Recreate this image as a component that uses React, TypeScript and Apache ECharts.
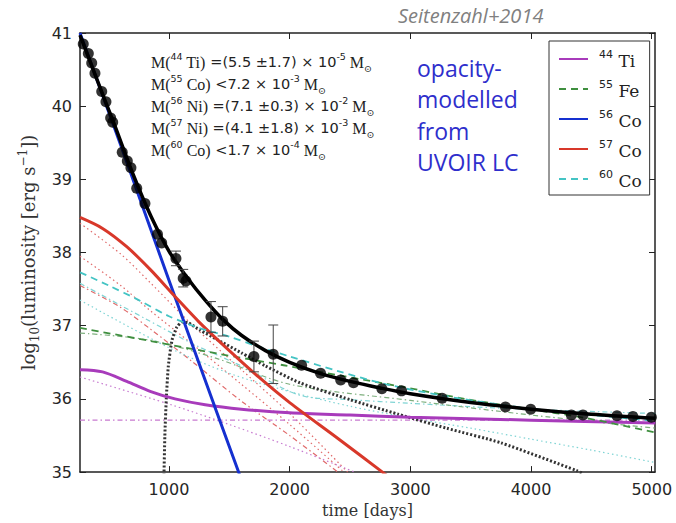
import React, { useEffect, useRef } from 'react';
import * as echarts from 'echarts';

// ---- observed light curve (days, log10 L) ----
const obsDays = [290, 332, 360, 387, 443, 478, 517, 534, 613, 655, 685, 733, 801, 905, 940, 1058, 1118, 1141, 1348, 1445, 1704, 1864, 2099, 2256, 2423, 2529, 2764, 2927, 3263, 3788, 3997, 4334, 4430, 4712, 4844, 4997];
const obsLum = [40.85, 40.72, 40.59, 40.45, 40.2, 40.06, 39.84, 39.78, 39.37, 39.25, 39.16, 38.88, 38.67, 38.25, 38.13, 37.92, 37.65, 37.61, 37.12, 37.06, 36.58, 36.61, 36.46, 36.35, 36.26, 36.22, 36.14, 36.11, 36.01, 35.89, 35.86, 35.78, 35.78, 35.77, 35.76, 35.75];

// ---- error bars ----
const errDays = [1058, 1118, 1348, 1445, 1704, 1864];
const errLum = [37.92, 37.65, 37.12, 37.06, 36.58, 36.61];
const errSize = [0.1, 0.12, 0.21, 0.2, 0.21, 0.4];

// ---- model curves [day, log10 L] ----
const totalCurve = [[263, 40.97], [400, 40.38], [550, 39.74], [700, 39.08], [850, 38.5], [1000, 38.02], [1150, 37.66], [1300, 37.35], [1450, 37.08], [1600, 36.87], [1800, 36.66], [2000, 36.5], [2250, 36.35], [2500, 36.24], [2750, 36.15], [3000, 36.07], [3500, 35.95], [4000, 35.86], [4500, 35.79], [5030, 35.735]];
const co56Curve = [[263, 41.0], [600, 39.47], [1000, 37.62], [1400, 35.8], [1577, 35.0], [1620, 34.8]];
const co57Curve = [[263, 38.48], [450, 38.33], [650, 38.08], [850, 37.76], [1050, 37.4], [1250, 37.05], [1500, 36.66], [1750, 36.29], [2000, 35.95], [2400, 35.46], [2769, 35.0], [2850, 34.9]];
const ti44Curve = [[263, 36.4], [450, 36.37], [650, 36.24], [850, 36.1], [1050, 36.0], [1300, 35.92], [1600, 35.86], [2000, 35.81], [2500, 35.78], [3000, 35.75], [4000, 35.71], [5030, 35.67]];
const fe55Curve = [[263, 36.97], [850, 36.79], [1400, 36.62], [1950, 36.46], [2450, 36.31], [2950, 36.16], [3450, 36.0], [3950, 35.87], [4450, 35.74], [5030, 35.54]];
const co60Curve = [[263, 37.73], [500, 37.55], [750, 37.35], [1000, 37.13], [1250, 36.97], [1500, 36.85], [1750, 36.71], [2000, 36.58], [2400, 36.38], [2800, 36.2], [3250, 36.05], [3750, 35.92], [4250, 35.82], [4700, 35.75], [5030, 35.7]];
const dottedCurve = [[958, 34.9], [966, 35.5], [978, 36.0], [995, 36.45], [1025, 36.8], [1065, 36.98], [1110, 37.05], [1160, 37.04], [1257, 36.94], [1400, 36.81], [1600, 36.63], [1800, 36.45], [2085, 36.22], [2500, 35.99], [2900, 35.79], [3300, 35.6], [3750, 35.4], [4379, 35.02], [4420, 34.99]];

// thin component curves
const redDot1 = [[263, 38.4], [600, 37.98], [850, 37.58], [1200, 37.0], [1600, 36.4], [2000, 35.8], [2480, 35.0]];
const redDot2 = [[263, 37.95], [600, 37.55], [850, 37.2], [1200, 36.74], [1600, 36.2], [2000, 35.65], [2450, 35.0]];
const redDashDot = [[263, 37.55], [600, 37.25], [850, 36.95], [1200, 36.5], [1600, 35.97], [2000, 35.5], [2400, 35.0]];
const cyanDot = [[263, 37.35], [1000, 36.7], [1500, 36.35], [2000, 36.1], [2500, 35.9], [3000, 35.74], [3500, 35.6], [4000, 35.45], [4500, 35.3], [5030, 35.13]];
const cyanDashDot = [[263, 37.58], [800, 37.1], [1200, 36.75], [1600, 36.45], [2085, 36.05], [2500, 35.99], [3000, 35.94], [3800, 35.87], [5030, 35.8]];
const magDot = [[263, 36.3], [1000, 35.93], [1500, 35.65], [2000, 35.35], [2540, 35.0]];
const magDashDot = [[263, 35.71], [5030, 35.71]];
const greenDashDot = [[263, 36.9], [850, 36.8], [1400, 36.55], [2000, 36.2], [3000, 35.98], [4000, 35.78], [5030, 35.6]];

// ---- axes ----
const xTicks = [1000, 2000, 3000, 4000, 5000];
const xMin = 263;
const xMax = 5027;
const yMin = 35;
const yMax = 41;

const legendNames = ['Ti44', 'Fe55', 'Co56', 'Co57', 'Co60'];
const legendLabels: Record<string, string> = {
  Ti44: '{sup|44}{el| Ti}',
  Fe55: '{sup|55}{el| Fe}',
  Co56: '{sup|56}{el| Co}',
  Co57: '{sup|57}{el| Co}',
  Co60: '{sup|60}{el| Co}',
};

const massLines = [
  '{s|M(}{sup|44}{s| Ti)}{n| =(5.5 ±1.7) × 10}{sup|-5}{s| M}{sub|⊙}',
  '{s|M(}{sup|55}{s| Co)}{n| <7.2 × 10}{sup|-3}{s| M}{sub|⊙}',
  '{s|M(}{sup|56}{s| Ni)}{n| =(7.1 ±0.3) × 10}{sup|-2}{s| M}{sub|⊙}',
  '{s|M(}{sup|57}{s| Ni)}{n| =(4.1 ±1.8) × 10}{sup|-3}{s| M}{sub|⊙}',
  '{s|M(}{sup|60}{s| Co)}{n| <1.7 × 10}{sup|-4}{s| M}{sub|⊙}',
];

const SERIF = '"DejaVu Serif", serif';
const SANS = '"DejaVu Sans", sans-serif';

function lineSeries(name: string, data: number[][], color: string, width: number, type: any, z = 2, smooth: any = 0.3) {
  return {
    name,
    type: 'line',
    data,
    symbol: 'none',
    silent: true,
    smooth,
    z,
    lineStyle: { color, width, type },
    itemStyle: { color },
  };
}

export default function App() {
  const ref = useRef<HTMLDivElement>(null);
  useEffect(() => {
    if (!ref.current) return;
    const chart = echarts.init(ref.current, undefined, { renderer: 'svg' });
    const axisColor = '#222';
    const option: any = {
      animation: false,
      backgroundColor: '#fff',
      grid: { left: 80, top: 33, right: 21, bottom: 50, containLabel: false },
      xAxis: [
        {
          type: 'value', min: xMin, max: xMax, position: 'bottom',
          name: 'time [days]', nameLocation: 'middle', nameGap: 17,
          nameTextStyle: { fontFamily: SERIF, fontSize: 16, color: '#333' },
          axisLine: { show: true, onZero: false, lineStyle: { color: axisColor, width: 1.5 } },
          axisTick: { show: true, inside: true, length: 6, customValues: xTicks, lineStyle: { color: axisColor } },
          axisLabel: { customValues: xTicks, margin: 9, fontFamily: SANS, fontSize: 16, color: '#262626', formatter: (v: number) => String(v) },
          splitLine: { show: false },
        },
        {
          type: 'value', min: xMin, max: xMax, position: 'top',
          axisLine: { show: true, onZero: false, lineStyle: { color: axisColor, width: 1.5 } },
          axisTick: { show: true, inside: true, length: 6, customValues: xTicks, lineStyle: { color: axisColor } },
          axisLabel: { show: false },
          splitLine: { show: false },
        },
      ],
      yAxis: [
        {
          type: 'value', min: yMin, max: yMax, interval: 1, position: 'left',
          name: '{n|log}{sub|10}{n|(luminosity [erg s}{sup|−1}{n|])}',
          nameLocation: 'middle', nameGap: 18, nameRotate: 90,
          nameTextStyle: {
            color: '#333',
            rich: {
              n: { fontFamily: SERIF, fontSize: 18, color: '#333', lineHeight: 24, verticalAlign: 'middle' },
              sub: { fontFamily: SERIF, fontSize: 12, color: '#333', lineHeight: 24, verticalAlign: 'bottom' },
              sup: { fontFamily: SERIF, fontSize: 12, color: '#333', lineHeight: 24, verticalAlign: 'top' },
            },
          },
          axisLine: { show: true, onZero: false, lineStyle: { color: axisColor, width: 1.5 } },
          axisTick: { show: true, inside: true, length: 6, lineStyle: { color: axisColor } },
          axisLabel: { margin: 8, fontFamily: SANS, fontSize: 16, color: '#262626' },
          splitLine: { show: false },
        },
        {
          type: 'value', min: yMin, max: yMax, interval: 1, position: 'right',
          axisLine: { show: true, onZero: false, lineStyle: { color: axisColor, width: 1.5 } },
          axisTick: { show: true, inside: true, length: 6, lineStyle: { color: axisColor } },
          axisLabel: { show: false },
          splitLine: { show: false },
        },
      ],
      legend: {
        orient: 'vertical', left: 549, top: 41,
        data: legendNames,
        itemWidth: 29, itemHeight: 14, itemGap: 10,
        padding: [8, 8, 6, 9],
        borderColor: '#333', borderWidth: 1, borderRadius: 0,
        backgroundColor: '#fff',
        selectedMode: false,
        itemStyle: { opacity: 0, borderWidth: 0 },
        formatter: (name: string) => legendLabels[name],
        textStyle: {
          rich: {
            sup: { fontFamily: SANS, fontSize: 11, color: '#222', lineHeight: 20, verticalAlign: 'top', padding: [0, 0, 0, 6] },
            el: { fontFamily: SERIF, fontSize: 17, color: '#222', lineHeight: 20, verticalAlign: 'bottom' },
          },
        },
      },
      graphic: [
        {
          type: 'text', left: 398, top: 4,
          style: { text: 'Seitenzahl+2014', fontFamily: '"Open Sans", sans-serif', fontStyle: 'italic', fontSize: 20, lineHeight: 22, fill: '#808080' },
        },
        {
          type: 'text', left: 417, top: 52,
          style: { text: 'opacity-\nmodelled\nfrom\nUVOIR LC', fontFamily: '"Open Sans", sans-serif', fontSize: 23, lineHeight: 31.5, fill: '#2e2ecc' },
        },
        {
          type: 'text', left: 151, top: 51,
          style: {
            text: massLines.join('\n'),
            rich: {
              s: { fontFamily: '"Liberation Serif", serif', fontSize: 16, fill: '#222', lineHeight: 22, verticalAlign: 'middle' },
              n: { fontFamily: SANS, fontSize: 14.5, fill: '#222', lineHeight: 22, verticalAlign: 'middle' },
              sup: { fontFamily: SANS, fontSize: 9.5, fill: '#222', lineHeight: 22, verticalAlign: 'top' },
              sub: { fontFamily: SERIF, fontSize: 9.5, fill: '#222', lineHeight: 22, verticalAlign: 'bottom' },
            },
          },
        },
      ],
      series: [
        lineSeries('redDot1', redDot1, '#e06a6a', 1.2, [1.5, 3]),
        lineSeries('redDot2', redDot2, '#e06a6a', 1.2, [1.5, 3]),
        lineSeries('redDashDot', redDashDot, '#e06a6a', 1.2, [5, 3, 1.5, 3]),
        lineSeries('cyanDot', cyanDot, '#7fd4d4', 1.2, [1.5, 3]),
        lineSeries('cyanDashDot', cyanDashDot, '#7fd4d4', 1.2, [5, 3, 1.5, 3]),
        lineSeries('magDot', magDot, '#c77ad0', 1.2, [1.5, 3]),
        lineSeries('magDashDot', magDashDot, '#c77ad0', 1.2, [5, 3, 1.5, 3], 2, false),
        lineSeries('greenDashDot', greenDashDot, '#7fb07f', 1.2, [5, 3, 1.5, 3]),
        lineSeries('dotted', dottedCurve, '#333', 3, [2, 2], 3, 0.2),
        lineSeries('Ti44', ti44Curve, '#a83bbb', 3, 'solid', 4),
        lineSeries('Fe55', fe55Curve, '#3f8f3f', 1.8, [7, 5], 4),
        lineSeries('Co56', co56Curve, '#1530d0', 3, 'solid', 4, false),
        lineSeries('Co57', co57Curve, '#d8382a', 3, 'solid', 4),
        lineSeries('Co60', co60Curve, '#44c4c4', 1.8, [7, 5], 4),
        lineSeries('total', totalCurve, '#000', 3.5, 'solid', 5),
        {
          name: 'errors', type: 'custom', z: 6, silent: true,
          data: errDays.map((d, i) => [d, errLum[i], errSize[i]]),
          encode: { x: 0, y: 1 },
          renderItem: (params: any, api: any) => {
            const x = api.value(0);
            const y = api.value(1);
            const e = api.value(2);
            const top = api.coord([x, y + e]);
            const bot = api.coord([x, y - e]);
            const hw = 5;
            const st = { stroke: '#444', lineWidth: 1 };
            return {
              type: 'group',
              children: [
                { type: 'line', shape: { x1: top[0], y1: top[1], x2: bot[0], y2: bot[1] }, style: st },
                { type: 'line', shape: { x1: top[0] - hw, y1: top[1], x2: top[0] + hw, y2: top[1] }, style: st },
                { type: 'line', shape: { x1: bot[0] - hw, y1: bot[1], x2: bot[0] + hw, y2: bot[1] }, style: st },
              ],
            };
          },
        },
        {
          name: 'data', type: 'scatter', z: 7, silent: true,
          data: obsDays.map((d, i) => [d, obsLum[i]]),
          symbol: 'circle', symbolSize: 11,
          itemStyle: { color: '#000' },
        },
      ],
    };
    chart.setOption(option);
    return () => chart.dispose();
  }, []);
  return <div ref={ref} style={{ position: 'fixed', left: 0, top: 0, width: 676, height: 523, background: '#fff' }} />;
}
